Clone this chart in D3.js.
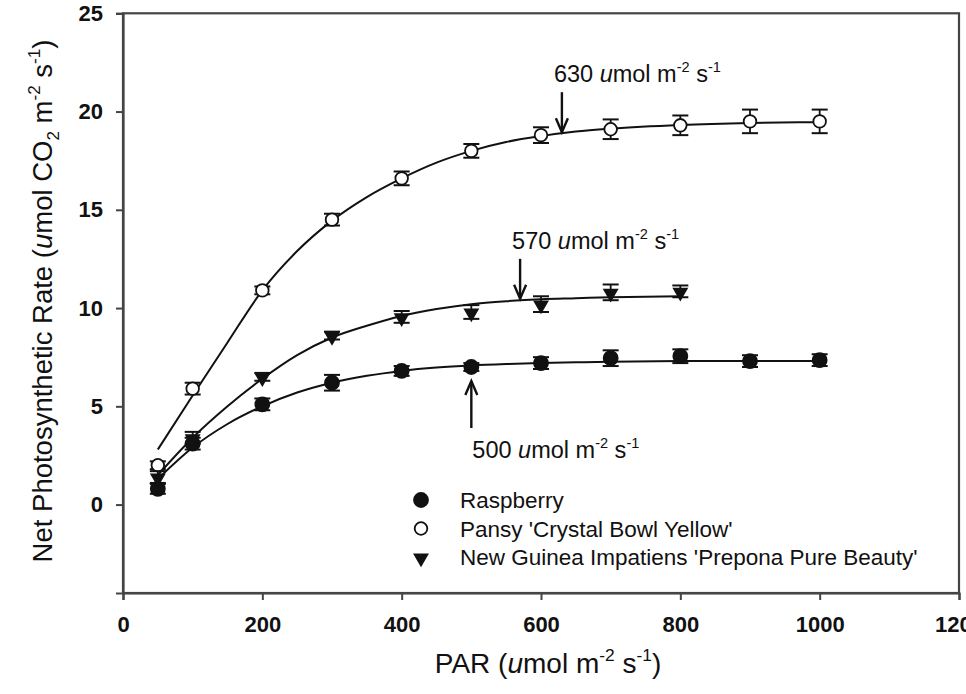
<!DOCTYPE html>
<html>
<head>
<meta charset="utf-8">
<script src="https://cdn.jsdelivr.net/npm/d3@7"></script>
<style>
  body { margin: 0; background: #fff; }
  svg { display: block; }
  text { font-family: "Liberation Sans", Arial, sans-serif; fill: #111; white-space: pre; }
</style>
</head>
<body>
<div id="chart"></div>
<script>
// measured points (PAR, net photosynthesis, error)
var parX = [50, 100, 200, 300, 400, 500, 600, 700, 800, 900, 1000];
var raspberry = [0.8, 3.1, 5.1, 6.2, 6.8, 7.0, 7.2, 7.45, 7.55, 7.3, 7.35];
var raspberryErr = [0.25, 0.3, 0.3, 0.4, 0.25, 0.2, 0.3, 0.4, 0.35, 0.3, 0.3];
var pansy = [2.0, 5.9, 10.9, 14.5, 16.6, 18.0, 18.8, 19.1, 19.3, 19.5, 19.5];
var pansyErr = [0.2, 0.3, 0.2, 0.3, 0.35, 0.35, 0.4, 0.5, 0.5, 0.6, 0.6];
var impX = [50, 100, 200, 300, 400, 500, 600, 700, 800];
var impatiens = [1.4, 3.4, 6.5, 8.6, 9.55, 9.8, 10.2, 10.8, 10.85];
var impatiensErr = [0.3, 0.3, 0.2, 0.2, 0.3, 0.35, 0.4, 0.4, 0.3];

// fitted curves
var fitX = [50, 100, 150, 200, 250, 300, 350, 400, 450, 500, 550, 600, 650, 700, 800, 900, 1000];
var raspberryFit = [1.3, 2.9, 4.1, 5.0, 5.7, 6.2, 6.55, 6.8, 6.97, 7.08, 7.15, 7.2, 7.24, 7.27, 7.3, 7.3, 7.3];
var pansyFit = [2.8, 5.55, 8.25, 10.9, 12.9, 14.45, 15.65, 16.6, 17.4, 18.0, 18.45, 18.75, 18.98, 19.13, 19.32, 19.42, 19.46];
var impFitX = [50, 100, 150, 200, 250, 300, 350, 400, 450, 500, 550, 600, 650, 700, 800];
var impatiensFit = [1.5, 3.4, 5.0, 6.4, 7.6, 8.5, 9.1, 9.6, 9.95, 10.2, 10.35, 10.45, 10.5, 10.55, 10.6];

// saturation arrows
var arrowPAR = [630, 570, 500];
var arrowRate = [18.95, 10.47, 7.05];
var arrowDir = ['down', 'down', 'up'];
var arrowLabel = ['630', '570', '500'];

var legendNames = ['Raspberry', "Pansy 'Crystal Bowl Yellow'", "New Guinea Impatiens 'Prepona Pure Beauty'"];
var xTicks = [0, 200, 400, 600, 800, 1000, 1200];
var yTicks = [0, 5, 10, 15, 20, 25];

var W = 966, H = 694;
var svg = d3.select('#chart').append('svg').attr('width', W).attr('height', H);

var x = d3.scaleLinear().domain([0, 1200]).range([123, 959]);
var y = d3.scaleLinear().domain([-4.5, 25]).range([593, 13.3]);

// frame
svg.append('rect')
  .attr('x', x(0)).attr('y', y(25))
  .attr('width', x(1200) - x(0)).attr('height', y(-4.5) - y(25))
  .attr('fill', 'none').attr('stroke', '#444').attr('stroke-width', 2.2);

var xAxis = svg.append('g')
  .attr('transform', 'translate(0,' + y(-4.5) + ')')
  .call(d3.axisBottom(x).tickValues(xTicks).tickFormat(d3.format('d')).tickSize(7).tickPadding(16));
var yAxis = svg.append('g')
  .attr('transform', 'translate(' + x(0) + ',0)')
  .call(d3.axisLeft(y).tickValues(yTicks).tickFormat(d3.format('d')).tickSize(7).tickPadding(13));
[xAxis, yAxis].forEach(function(a) {
  a.select('.domain').attr('stroke', '#444').attr('stroke-width', 2.2);
  a.selectAll('.tick line').attr('stroke', '#444').attr('stroke-width', 2);
  a.selectAll('.tick text').attr('font-size', 22).attr('font-weight', 'bold')
    .attr('font-family', '"Liberation Sans", Arial, sans-serif').attr('fill', '#222');
});

function richText(sel, parts, size) {
  var off = 0;
  parts.forEach(function(p) {
    var target = p.sup ? -size * 0.42 : (p.sub ? size * 0.25 : 0);
    var t = sel.append('tspan').text(p.t).attr('dy', target - off);
    off = target;
    if (p.sup || p.sub) t.attr('font-size', size * 0.62);
    if (p.i) t.attr('font-style', 'italic');
  });
}
function unitParts(prefix) {
  return [{t: prefix}, {t: 'u', i: 1}, {t: 'mol m'}, {t: '-2', sup: 1}, {t: ' s'}, {t: '-1', sup: 1}];
}

// axis titles
var xt = svg.append('text').attr('x', 548).attr('y', 673).attr('text-anchor', 'middle').attr('font-size', 28);
richText(xt, [{t: 'PAR ('}].concat(unitParts('').slice(1)).concat([{t: ')'}]), 28);

var yt = svg.append('text').attr('transform', 'translate(52,301) rotate(-90)')
  .attr('text-anchor', 'middle').attr('font-size', 27.5);
richText(yt, [{t: 'Net Photosynthetic Rate ('}, {t: 'u', i: 1}, {t: 'mol CO'}, {t: '2', sub: 1},
  {t: ' m'}, {t: '-2', sup: 1}, {t: ' s'}, {t: '-1', sup: 1}, {t: ')'}], 27.5);

// curves
var line = d3.line().x(function(d) { return x(d[0]); }).y(function(d) { return y(d[1]); })
  .curve(d3.curveMonotoneX);
var fits = [d3.zip(fitX, raspberryFit), d3.zip(fitX, pansyFit), d3.zip(impFitX, impatiensFit)];
svg.selectAll('path.fit').data(fits).enter().append('path').attr('class', 'fit')
  .attr('d', line).attr('fill', 'none').attr('stroke', '#111').attr('stroke-width', 2);

// data series
var series = [
  {xs: parX, ys: raspberry, es: raspberryErr, kind: 'filled'},
  {xs: parX, ys: pansy, es: pansyErr, kind: 'open'},
  {xs: impX, ys: impatiens, es: impatiensErr, kind: 'tri'}
];
var tri = d3.symbol().type(d3.symbolTriangle).size(110);

function marker(g, kind, cx, cy) {
  if (kind === 'tri') {
    g.append('path').attr('d', tri())
      .attr('transform', 'translate(' + cx + ',' + (cy + 1) + ') rotate(180)')
      .attr('fill', '#111');
  } else {
    g.append('circle').attr('cx', cx).attr('cy', cy).attr('r', kind === 'open' ? 6.3 : 7)
      .attr('fill', kind === 'open' ? '#fff' : '#111')
      .attr('stroke', '#111').attr('stroke-width', 1.8);
  }
}

series.forEach(function(s) {
  var g = svg.append('g');
  s.xs.forEach(function(px, i) {
    var cx = x(px), lo = y(s.ys[i] - s.es[i]), hi = y(s.ys[i] + s.es[i]);
    g.append('line').attr('x1', cx).attr('x2', cx).attr('y1', lo).attr('y2', hi)
      .attr('stroke', '#111').attr('stroke-width', 1.8);
    [lo, hi].forEach(function(yy) {
      g.append('line').attr('x1', cx - 8).attr('x2', cx + 8).attr('y1', yy).attr('y2', yy)
        .attr('stroke', '#111').attr('stroke-width', 2);
    });
    marker(g, s.kind, cx, y(s.ys[i]));
  });
});

// arrows and their labels
arrowPAR.forEach(function(p, i) {
  var ax = x(p), tip, tail, ty, tx;
  if (arrowDir[i] === 'down') {
    tip = y(arrowRate[i]); tail = tip - 40; ty = tail - 10; tx = ax - 8;
  } else {
    tip = y(arrowRate[i]) + 15; tail = tip + 47; ty = tail + 30; tx = ax + 1;
  }
  var d = tip > tail ? -1 : 1;
  svg.append('line').attr('x1', ax).attr('x2', ax).attr('y1', tail).attr('y2', tip)
    .attr('stroke', '#111').attr('stroke-width', 2.4);
  svg.append('path')
    .attr('d', 'M' + (ax - 6) + ',' + (tip + d * 14) + 'L' + ax + ',' + tip + 'L' + (ax + 6) + ',' + (tip + d * 14))
    .attr('fill', 'none').attr('stroke', '#111').attr('stroke-width', 2.4);
  var t = svg.append('text').attr('x', tx).attr('y', ty).attr('font-size', 23.5);
  richText(t, unitParts(arrowLabel[i] + ' '), 23.5);
});

// legend
var legY = [500, 528.5, 557];
var kinds = ['filled', 'open', 'tri'];
legendNames.forEach(function(name, i) {
  var g = svg.append('g');
  marker(g, kinds[i], 421, legY[i]);
  g.append('text').attr('x', 460).attr('y', legY[i] + 8).attr('font-size', 22.5).text(name);
});
</script>
</body>
</html>
